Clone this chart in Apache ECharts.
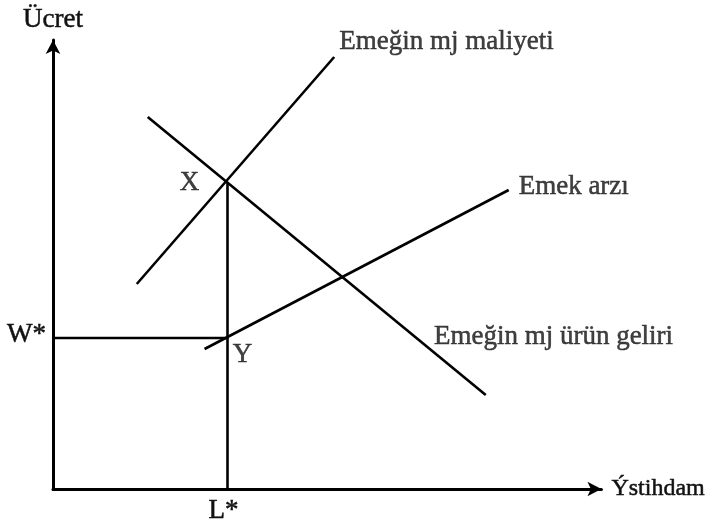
<!DOCTYPE html>
<html><head><meta charset="utf-8">
<script src="https://cdn.jsdelivr.net/npm/echarts@6/dist/echarts.min.js"></script>
<style>html,body{margin:0;padding:0;background:#fff}#c{width:708px;height:529px}</style>
</head><body><div id="c"></div>
<script>
// Curves (data units: employment on x, wage on y)
const mcLabor = [[84,205],[282,432]];          // Emeğin mj maliyeti
const mrpLabor = [[95,372],[434,94]];          // Emeğin mj ürün geliri
const laborSupply = [[152,140],[457,299]];     // Emek arzı
const lStar = 175, wStar = 151, xPointY = 307;
const verticalLine = [[lStar,xPointY],[lStar,0]];
const wageLine = [[0,wStar],[lStar,wStar]];
const curveNames = ['Emeğin mj maliyeti','Emek arzı','Emeğin mj ürün geliri'];
const curveLabelPos = [[287,447],[467,302],[382,152]];
const pointNames = ['X','Y'];
const pointLabelPos = [[137,306],[190,134]];
const axisNames = ['Ücret','Ýstihdam'];
const tickNames = ['W*','L*'];

const chart = echarts.init(document.getElementById('c'));
const font = '"Liberation Serif","Times New Roman",serif';
const txtColor = '#111';
const fs = 27;
const stroke = {textBorderColor:'#111', textBorderWidth:0.5};
const lineStyle = {color:'#000', width:2.6};
function seg(data){return {type:'line', data, symbol:'none', lineStyle, silent:true, animation:false};}
chart.setOption({
  animation:false,
  grid:{left:53, right:105, top:40, bottom:40},
  xAxis:{type:'value', min:0, max:550, splitLine:{show:false}, axisTick:{show:false}, axisLabel:{show:false},
    axisLine:{onZero:false, lineStyle:{color:'#000', width:3}, symbol:['none','arrow'], symbolSize:[11,14]},
    name:axisNames[1], nameLocation:'end', nameGap:10,
    nameTextStyle:Object.assign({fontFamily:font, fontSize:24, color:txtColor, align:'left', verticalAlign:'middle'}, stroke)},
  yAxis:{type:'value', min:0, max:449, splitLine:{show:false}, axisTick:{show:false}, axisLabel:{show:false},
    axisLine:{onZero:false, lineStyle:{color:'#000', width:3}, symbol:['none','arrow'], symbolSize:[11,14]},
    name:axisNames[0], nameLocation:'end', nameGap:7,
    nameTextStyle:Object.assign({fontFamily:font, fontSize:fs, color:txtColor, align:'center', verticalAlign:'bottom'}, stroke)},
  series:[seg(mcLabor), seg(mrpLabor), seg(laborSupply), seg(verticalLine), seg(wageLine),
    {type:'scatter', symbolSize:0, silent:true,
     data: curveLabelPos.map((p,i)=>({value:p, name:curveNames[i], label:{position:'right', distance:0}})).concat(
           pointLabelPos.map((p,i)=>({value:p, name:pointNames[i]}))),
     label:Object.assign({show:true, formatter:p=>p.name, position:'inside', fontFamily:font, fontSize:fs, color:txtColor}, stroke)
    }
  ]
});
// Tick names W* and L*
const wPix = chart.convertToPixel({gridIndex:0}, [0,wStar]);
const lPix = chart.convertToPixel({gridIndex:0}, [lStar,0]);
chart.setOption({graphic:[
  {type:'text', x:wPix[0]-7, y:wPix[1]-3, style:{text:tickNames[0], font:fs+'px '+font, fill:txtColor, stroke:'#111', lineWidth:0.5, align:'right', verticalAlign:'middle'}},
  {type:'text', x:lPix[0]-4, y:lPix[1]+22, style:{text:tickNames[1], font:fs+'px '+font, fill:txtColor, stroke:'#111', lineWidth:0.5, align:'center', verticalAlign:'middle'}}
]});
</script></body></html>
